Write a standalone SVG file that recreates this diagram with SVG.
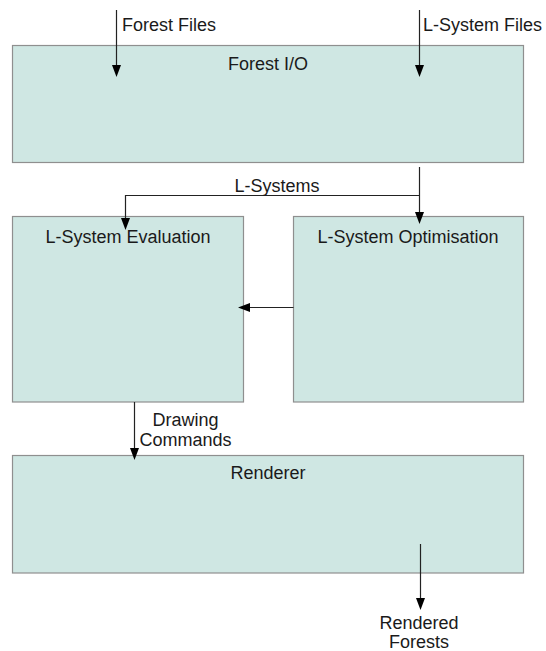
<svg xmlns="http://www.w3.org/2000/svg" width="546" height="651" viewBox="0 0 546 651">
<style>
.box{fill:#cfe7e3;stroke:#8f8f8f;stroke-width:1.2}
.t{font-family:"Liberation Sans",Arial,sans-serif;font-size:18px;fill:#1a1a1a}
.c{text-anchor:middle}
.ln{fill:none;stroke:#222;stroke-width:1.2}
</style>
<defs>
<marker id="ah" markerUnits="userSpaceOnUse" markerWidth="10" markerHeight="12" refX="5" refY="12" orient="auto-start-reverse" viewBox="0 0 10 12">
<path d="M0,0 L10,0 L5,12 z" fill="#000"/>
</marker>
<marker id="ahl" markerUnits="userSpaceOnUse" markerWidth="12" markerHeight="10" refX="12" refY="5" orient="0" viewBox="0 0 12 10">
<path d="M0,0 L12,5 L0,10 z" fill="#000"/>
</marker>
</defs>
<g id="forest-io">
<rect class="box" x="12.5" y="45.5" width="511" height="117"/>
<text class="t c" x="268" y="70">Forest I/O</text>
</g>
<g id="lsys-eval">
<rect class="box" x="12.5" y="216.5" width="231" height="185.5"/>
<text class="t c" x="128" y="243">L-System Evaluation</text>
</g>
<g id="lsys-opt">
<rect class="box" x="293.5" y="216.5" width="230" height="185.5"/>
<text class="t c" x="408" y="243">L-System Optimisation</text>
</g>
<g id="renderer">
<rect class="box" x="12.5" y="455.5" width="511" height="117.5"/>
<text class="t c" x="268" y="479">Renderer</text>
</g>
<g id="connectors">
<path class="ln" d="M116.5,10 V65"/>
<path d="M112,65 L121,65 L116.5,77 z" fill="#000"/>
<text class="t" x="122" y="31">Forest Files</text>
<path class="ln" d="M419.5,10 V65"/>
<path d="M415,65 L424,65 L419.5,77 z" fill="#000"/>
<text class="t" x="423" y="31">L-System Files</text>
<path class="ln" d="M419.5,167 V212"/>
<path d="M415,212 L424,212 L419.5,224 z" fill="#000"/>
<path class="ln" d="M419.5,195.5 H125.5 V218"/>
<path d="M121,218 L130,218 L125.5,230 z" fill="#000"/>
<text class="t c" x="277" y="192">L-Systems</text>
<path class="ln" d="M293.5,307.5 H250"/>
<path d="M250,303 L250,312 L238,307.5 z" fill="#000"/>
<path class="ln" d="M134.5,402 V448"/>
<path d="M130,448 L139,448 L134.5,460 z" fill="#000"/>
<text class="t c" x="185.5" y="426">Drawing</text>
<text class="t c" x="185.5" y="446">Commands</text>
<path class="ln" d="M420.5,544 V598"/>
<path d="M416,598 L425,598 L420.5,610 z" fill="#000"/>
<text class="t c" x="419" y="629">Rendered</text>
<text class="t c" x="419" y="648">Forests</text>
</g>
</svg>
